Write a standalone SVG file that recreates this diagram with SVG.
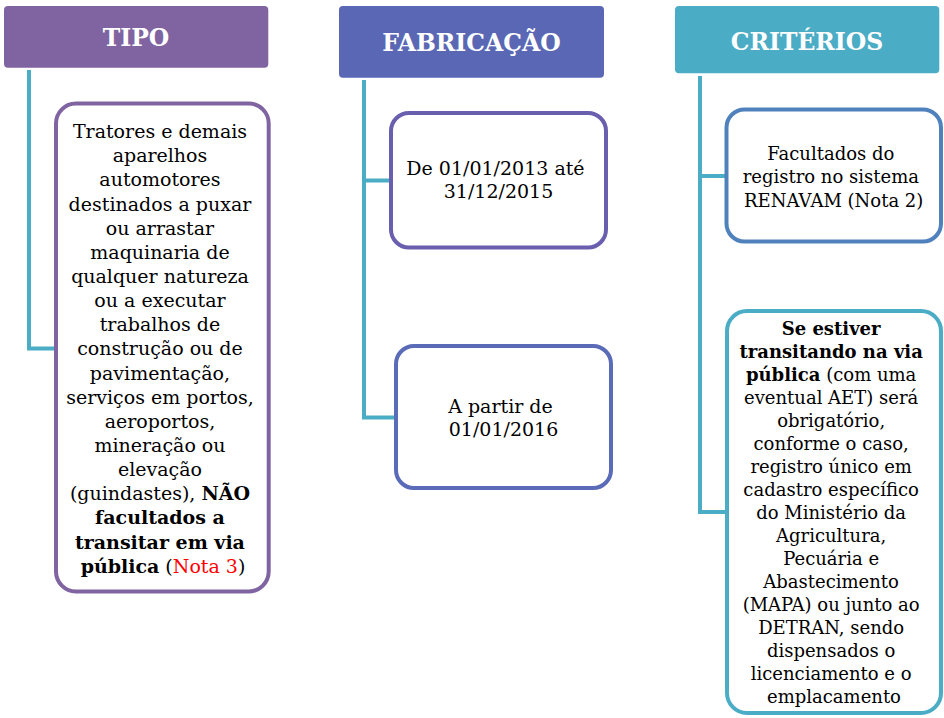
<svg xmlns="http://www.w3.org/2000/svg" width="944" height="718" viewBox="0 0 944 718">
<style>
.hdr{font-family:"DejaVu Serif","Liberation Serif",serif;font-weight:bold;font-size:23.5px;fill:#ffffff;text-anchor:middle}
.t{font-family:"DejaVu Serif","Liberation Serif",serif;font-size:19px;fill:#000000;text-anchor:middle}
.s{font-family:"DejaVu Serif","Liberation Serif",serif;font-size:18px;fill:#000000;text-anchor:middle}
.b{font-weight:bold}
.red{fill:#ff0000}
.box{fill:#ffffff;stroke-width:4}
.conn{fill:none;stroke:#4BACC6;stroke-width:4}
</style>
<rect width="944" height="718" fill="#ffffff"/>
<g id="connectors">
<path class="conn" d="M29,70 V348.5 H56"/>
<path class="conn" d="M364,80 V417.5 H396 M364,180.5 H391"/>
<path class="conn" d="M700,76 V512 H727 M700,176 H726.5"/>
</g>
<g id="tipo">
<rect x="4" y="6" width="264.3" height="61.7" rx="4" fill="#8064A2"/>
<text class="hdr" x="136" y="45.5">TIPO</text>
</g>
<g id="tipo-box">
<rect class="box" x="56" y="103.5" width="212.7" height="488" rx="20" stroke="#8064A2"/>
<text class="t" x="163">
<tspan x="163" y="138">Tratores e demais</tspan>
<tspan x="163" y="162.2">aparelhos</tspan>
<tspan x="163" y="186.3">automotores</tspan>
<tspan x="163" y="210.5">destinados a puxar</tspan>
<tspan x="163" y="234.6">ou arrastar</tspan>
<tspan x="163" y="258.8">maquinaria de</tspan>
<tspan x="163" y="282.9">qualquer natureza</tspan>
<tspan x="163" y="307.1">ou a executar</tspan>
<tspan x="163" y="331.2">trabalhos de</tspan>
<tspan x="163" y="355.4">construção ou de</tspan>
<tspan x="163" y="379.5">pavimentação,</tspan>
<tspan x="163" y="403.7">serviços em portos,</tspan>
<tspan x="163" y="427.8">aeroportos,</tspan>
<tspan x="163" y="452">mineração ou</tspan>
<tspan x="163" y="476.1">elevação</tspan>
<tspan x="163" y="500.3">(guindastes), <tspan class="b">NÃO</tspan></tspan>
<tspan x="163" y="524.4" class="b">facultados a</tspan>
<tspan x="163" y="548.6" class="b">transitar em via</tspan>
<tspan x="163" y="572.7"><tspan class="b">pública</tspan> (<tspan class="red">Nota 3</tspan>)</tspan>
</text>
</g>
<g id="fabricacao">
<rect x="339" y="6" width="265" height="71.7" rx="4" fill="#5A67B4"/>
<text class="hdr" x="471.5" y="51">FABRICAÇÃO</text>
</g>
<g id="fab-box1">
<rect class="box" x="391" y="113" width="215" height="134.5" rx="18" stroke="#6A5FAE"/>
<text class="t">
<tspan x="498.5" y="175">De 01/01/2013 até</tspan>
<tspan x="498.5" y="198">31/12/2015</tspan>
</text>
</g>
<g id="fab-box2">
<rect class="box" x="396" y="346" width="215" height="142" rx="18" stroke="#5A6BB8"/>
<text class="t">
<tspan x="503.5" y="413.3">A partir de</tspan>
<tspan x="503.5" y="436.3">01/01/2016</tspan>
</text>
</g>
<g id="criterios">
<rect x="675" y="6" width="264.3" height="67.3" rx="4" fill="#4BACC6"/>
<text class="hdr" x="807" y="49.5">CRITÉRIOS</text>
</g>
<g id="crit-box1">
<rect class="box" x="726.5" y="109.5" width="214.5" height="132" rx="18" stroke="#4F81BD"/>
<text class="s">
<tspan x="833.7" y="160">Facultados do</tspan>
<tspan x="833.7" y="183.3">registro no sistema</tspan>
<tspan x="833.7" y="206.7">RENAVAM (Nota 2)</tspan>
</text>
</g>
<g id="crit-box2">
<rect class="box" x="727" y="311" width="214" height="402" rx="20" stroke="#4BACC6"/>
<text class="s">
<tspan x="834" y="335" class="b">Se estiver</tspan>
<tspan x="834" y="358" class="b">transitando na via</tspan>
<tspan x="834" y="381"><tspan class="b">pública</tspan> (com uma</tspan>
<tspan x="834" y="404">eventual AET) será</tspan>
<tspan x="834" y="427">obrigatório,</tspan>
<tspan x="834" y="450">conforme o caso,</tspan>
<tspan x="834" y="473">registro único em</tspan>
<tspan x="834" y="496">cadastro específico</tspan>
<tspan x="834" y="519">do Ministério da</tspan>
<tspan x="834" y="542">Agricultura,</tspan>
<tspan x="834" y="565">Pecuária e</tspan>
<tspan x="834" y="588">Abastecimento</tspan>
<tspan x="834" y="611">(MAPA) ou junto ao</tspan>
<tspan x="834" y="634">DETRAN, sendo</tspan>
<tspan x="834" y="657">dispensados o</tspan>
<tspan x="834" y="680">licenciamento e o</tspan>
<tspan x="834" y="703">emplacamento</tspan>
</text>
</g>
</svg>
